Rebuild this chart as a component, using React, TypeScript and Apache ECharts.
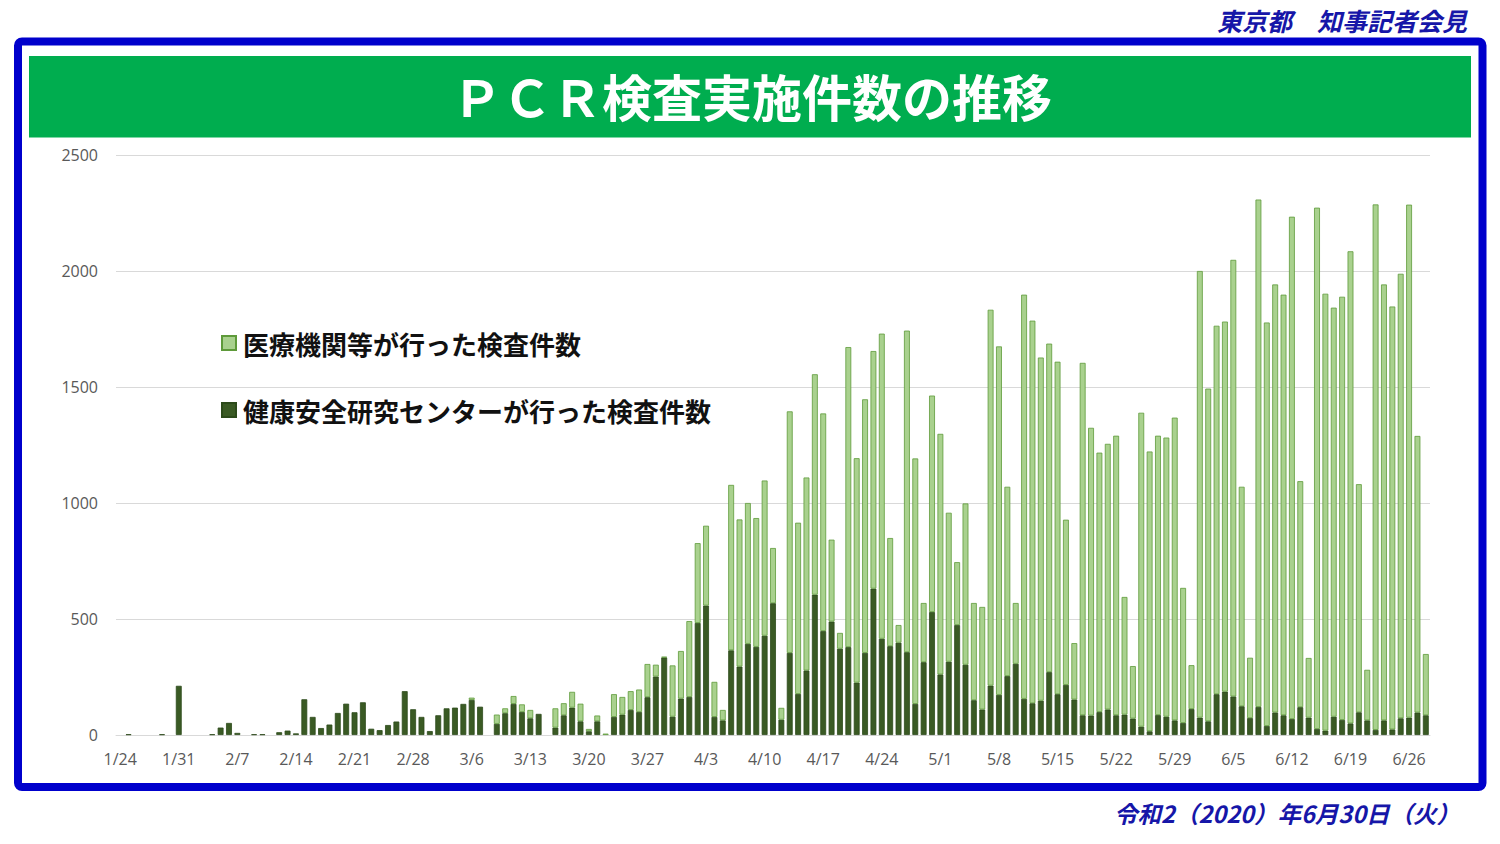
import React, { useEffect, useRef } from "react";
import * as echarts from "echarts";

// Dates 1/24 .. 6/28 (2020)
const monthDays: [number, number, number][] = [
  [1, 24, 31],
  [2, 1, 29],
  [3, 1, 31],
  [4, 1, 30],
  [5, 1, 31],
  [6, 1, 28],
];
const categories: string[] = [];
monthDays.forEach(([m, s, e]) => {
  for (let d = s; d <= e; d++) categories.push(`${m}/${d}`);
});

// 健康安全研究センターが行った検査件数
const centerCounts = [
  0, 3, 0, 0, 0, 3, 0, 212, 0, 0,
  0, 3, 32, 52, 9, 0, 3, 3, 0, 12,
  19, 7, 154, 78, 30, 45, 95, 135, 98, 141,
  27, 21, 43, 58, 189, 111, 78, 17, 85, 115,
  118, 134, 151, 122, 0, 48, 94, 134, 99, 72,
  91, 0, 32, 85, 118, 59, 16, 59, 0, 78,
  88, 108, 99, 163, 252, 334, 79, 157, 164, 483,
  558, 78, 63, 365, 295, 393, 380, 428, 568, 66,
  354, 177, 278, 605, 448, 489, 372, 379, 226, 354,
  631, 415, 383, 398, 357, 134, 314, 530, 261, 316,
  474, 303, 150, 110, 213, 173, 254, 307, 156, 137,
  148, 271, 176, 216, 153, 85, 84, 99, 110, 85,
  88, 71, 36, 16, 86, 79, 63, 52, 112, 75,
  59, 176, 187, 166, 124, 73, 121, 39, 97, 85,
  69, 120, 75, 26, 19, 79, 65, 50, 98, 63,
  22, 63, 24, 72, 75, 97, 85,
];

// 医療機関等が行った検査件数
const medicalCounts = [
  0, 0, 0, 0, 0, 0, 0, 0, 0, 0,
  0, 0, 0, 0, 0, 0, 0, 0, 0, 0,
  0, 0, 0, 0, 0, 0, 0, 0, 0, 0,
  0, 0, 0, 0, 0, 0, 0, 0, 0, 0,
  0, 0, 10, 0, 0, 40, 21, 34, 33, 36,
  0, 0, 83, 52, 68, 76, 10, 25, 6, 98,
  76, 81, 97, 143, 51, 3, 221, 205, 327, 344,
  344, 151, 45, 713, 634, 607, 555, 669, 238, 51,
  1041, 738, 832, 950, 938, 353, 68, 1293, 967, 1093,
  1024, 1315, 466, 76, 1386, 1058, 255, 933, 1037, 642,
  271, 695, 419, 442, 1620, 1502, 816, 262, 1742, 1649,
  1479, 1416, 1433, 712, 243, 1519, 1240, 1118, 1145, 1205,
  507, 226, 1353, 1206, 1204, 1203, 1305, 582, 189, 1925,
  1434, 1588, 1595, 1882, 946, 260, 2187, 1739, 1845, 1813,
  2165, 974, 257, 2247, 1883, 1763, 1824, 2035, 983, 218,
  2265, 1879, 1823, 1916, 2211, 1192, 264,
];

const yTicks = [0, 500, 1000, 1500, 2000, 2500];

const SERIES_MED = "医療機関等が行った検査件数";
const SERIES_CENTER = "健康安全研究センターが行った検査件数";

const JP = '"Noto Sans CJK JP", "Noto Sans", sans-serif';
const LAT = '"Open Sans", "Noto Sans", sans-serif';

const noZero = (arr: number[]) => arr.map((v) => (v === 0 ? "-" : v));

export default function App() {
  const ref = useRef<HTMLDivElement>(null);

  useEffect(() => {
    if (!ref.current) return;
    const chart = echarts.init(ref.current, undefined, { renderer: "svg" });
    chart.setOption({
      animation: false,
      backgroundColor: "#ffffff",
      textStyle: { fontFamily: LAT },
      graphic: [
        {
          type: "rect",
          shape: { x: 18, y: 41.5, width: 1464.5, height: 745.5, r: 4 },
          style: { fill: "none", stroke: "#0000CC", lineWidth: 8 },
          silent: true,
        },
        {
          type: "rect",
          shape: { x: 29, y: 56, width: 1442, height: 81.5 },
          style: { fill: "#00AD4F" },
          silent: true,
        },
        {
          type: "text",
          x: 752,
          y: 95,
          style: {
            text: "ＰＣＲ検査実施件数の推移",
            fill: "#ffffff",
            font: `bold 50px ${JP}`,
            align: "center",
            verticalAlign: "middle",
          },
        },
        {
          type: "text",
          x: 1467,
          y: 20,
          style: {
            text: "東京都　知事記者会見",
            fill: "#1616A8",
            font: `italic bold 25px ${JP}`,
            align: "right",
            verticalAlign: "middle",
          },
        },
        {
          type: "text",
          x: 1460,
          y: 813,
          style: {
            text: "令和2（2020）年6月30日（火）",
            fill: "#1616A8",
            font: `italic bold 23.5px ${JP}`,
            align: "right",
            verticalAlign: "middle",
          },
        },
      ],
      legend: {
        left: 216,
        top: 325,
        orient: "vertical",
        itemWidth: 14,
        itemHeight: 14,
        itemGap: 41,
        icon: "rect",
        data: [SERIES_MED, SERIES_CENTER],
        textStyle: {
          fontFamily: JP,
          fontSize: 26,
          fontWeight: "bold",
          color: "#111111",
          padding: [0, 0, 0, 2],
        },
        selectedMode: false,
      },
      grid: { left: 116, right: 70, top: 155, bottom: 109, containLabel: false },
      xAxis: {
        type: "category",
        data: categories,
        axisLine: { lineStyle: { color: "#D9D9D9", width: 1 } },
        axisTick: { show: false },
        axisLabel: {
          interval: 6,
          color: "#595959",
          fontSize: 16,
          fontFamily: LAT,
          margin: 16,
        },
      },
      yAxis: {
        type: "value",
        min: yTicks[0],
        max: yTicks[yTicks.length - 1],
        interval: 500,
        axisLine: { show: false },
        axisTick: { show: false },
        axisLabel: {
          color: "#595959",
          fontSize: 16,
          fontFamily: LAT,
          margin: 18,
          formatter: (v: number) => String(v),
        },
        splitLine: { lineStyle: { color: "#D9D9D9", width: 1 } },
      },
      series: [
        {
          name: SERIES_CENTER,
          type: "bar",
          stack: "total",
          data: noZero(centerCounts),
          barWidth: "70%",
          itemStyle: { color: "#3A5A24", borderColor: "#2C4A1A", borderWidth: 0.8 },
        },
        {
          name: SERIES_MED,
          type: "bar",
          stack: "total",
          data: noZero(medicalCounts),
          barWidth: "70%",
          itemStyle: { color: "#A9D18E", borderColor: "#5E9A3A", borderWidth: 0.8 },
        },
      ],
    });
    return () => chart.dispose();
  }, []);

  return (
    <div
      style={{
        position: "absolute",
        left: 0,
        top: 0,
        width: 1500,
        height: 844,
        background: "#ffffff",
      }}
    >
      <div ref={ref} style={{ width: 1500, height: 844 }} />
    </div>
  );
}
